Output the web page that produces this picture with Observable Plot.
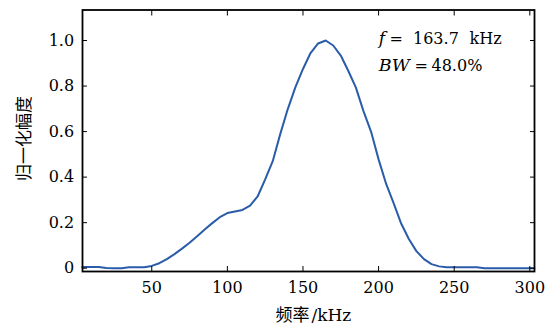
<!DOCTYPE html>
<html>
<head>
<meta charset="utf-8">
<script src="https://cdn.jsdelivr.net/npm/d3@7"></script>
<script src="https://cdn.jsdelivr.net/npm/@observablehq/plot@0.6"></script>
<style>
  html, body { margin: 0; padding: 0; background: white; }
  #chart svg text { font-family: "DejaVu Serif", "Noto Sans CJK SC", sans-serif !important; }
</style>
</head>
<body>
<div id="chart"></div>
<script>
// Frequency (kHz)
const freq = [4, 10, 15, 20, 25, 30, 35, 40, 45, 50, 55, 60, 65, 70, 75, 80, 85, 90, 95, 100,
  105, 110, 115, 120, 125, 130, 135, 140, 145, 150, 155, 160, 165, 170, 175, 180, 185, 190, 195, 200,
  205, 210, 215, 220, 225, 230, 235, 240, 245, 250, 255, 260, 265, 270, 275, 280, 285, 290, 295, 300, 303];
// Normalized amplitude
const amp = [0.005, 0.005, 0.005, 0.001, 0.0, 0.0, 0.004, 0.004, 0.004, 0.01, 0.022, 0.04, 0.062, 0.086, 0.112, 0.14, 0.17, 0.198, 0.224, 0.242,
  0.249, 0.256, 0.275, 0.315, 0.39, 0.47, 0.59, 0.70, 0.795, 0.875, 0.945, 0.987, 1.0, 0.978, 0.934, 0.866, 0.793, 0.69, 0.6, 0.478,
  0.37, 0.285, 0.195, 0.128, 0.075, 0.04, 0.018, 0.008, 0.004, 0.004, 0.004, 0.004, 0.004, 0.0, 0.0, 0.0, 0.0, 0.0, 0.0, 0.0, 0.0];

const xTicks = [50, 100, 150, 200, 250, 300];
const yTicks = [0, 0.2, 0.4, 0.6, 0.8, 1.0];
const yTickLabels = ["0", "0.2", "0.4", "0.6", "0.8", "1.0"];
const xLabelCJK = "频率";
const xLabelUnit = "/kHz";
const yLabel = "归一化幅度";
const annoF = "163.7";
const annoUnit = "kHz";
const annoBW = "48.0%";

const serif = "DejaVu Serif";
const cjk = "Noto Sans CJK SC, sans-serif";
const fs = 16;

const chart = Plot.plot({
  width: 557,
  height: 327,
  marginLeft: 82,
  marginRight: 23,
  marginTop: 9.5,
  marginBottom: 56,
  style: "font-family: 'DejaVu Serif'; font-size: 16px; background: white; color: black;",
  x: { domain: [4.2, 303.1] },
  y: { domain: [-0.0145, 1.134] },
  marks: [
    Plot.line(amp, { x: freq, y: amp, stroke: "#2a5caa", strokeWidth: 2 }),
    Plot.frame({ stroke: "black", strokeWidth: 1.8 }),
    Plot.axisX(xTicks, { anchor: "bottom", tickSize: -5, fill: "none", label: null }),
    Plot.axisX(xTicks, { anchor: "top", tickSize: -5, fill: "none", label: null }),
    Plot.axisY(yTicks, { anchor: "left", tickSize: -5, fill: "none", label: null }),
    Plot.axisY(yTicks, { anchor: "right", tickSize: -5, fill: "none", label: null }),
    Plot.axisX(xTicks, { anchor: "bottom", tickSize: 0, tickPadding: 10, label: null, fontFamily: serif, fontSize: fs, fill: "black" }),
    Plot.axisY(yTicks, { anchor: "left", tickSize: 0, tickPadding: 8.4, label: null, fontFamily: serif, fontSize: fs, fill: "black",
      tickFormat: (d) => yTickLabels[yTicks.indexOf(d)] }),
    // axis titles
    Plot.text([xLabelCJK], { frameAnchor: "bottom-left", textAnchor: "start", lineAnchor: "bottom", dx: 193, dy: 49, fontFamily: cjk, fontSize: 17, fill: "black" }),
    Plot.text([xLabelUnit], { frameAnchor: "bottom-left", textAnchor: "start", lineAnchor: "bottom", dx: 229, dy: 49, fontFamily: serif, fontSize: 17, fill: "black" }),
    Plot.text([yLabel], { frameAnchor: "left", textAnchor: "middle", lineAnchor: "bottom", rotate: -90, dx: -52.3, dy: -2.25, fontFamily: cjk, fontSize: 17, fill: "black" }),
    // annotation
    Plot.text(["f"], { frameAnchor: "top-left", textAnchor: "start", lineAnchor: "bottom", dx: 296.3, dy: 33.8, fontFamily: serif, fontStyle: "italic", fontSize: 17, fill: "black" }),
    Plot.text(["="], { frameAnchor: "top-left", textAnchor: "start", lineAnchor: "bottom", dx: 307, dy: 33.8, fontFamily: serif, fontSize: fs, fill: "black" }),
    Plot.text([annoF], { frameAnchor: "top-left", textAnchor: "start", lineAnchor: "bottom", dx: 330.5, dy: 33.8, fontFamily: serif, fontSize: fs, fill: "black" }),
    Plot.text([annoUnit], { frameAnchor: "top-left", textAnchor: "start", lineAnchor: "bottom", dx: 387, dy: 33.8, fontFamily: serif, fontSize: fs, fill: "black" }),
    Plot.text(["BW"], { frameAnchor: "top-left", textAnchor: "start", lineAnchor: "bottom", dx: 296.3, dy: 60.5, fontFamily: serif, fontStyle: "italic", fontSize: 17.5, fill: "black" }),
    Plot.text(["="], { frameAnchor: "top-left", textAnchor: "start", lineAnchor: "bottom", dx: 332, dy: 60.5, fontFamily: serif, fontSize: fs, fill: "black" }),
    Plot.text([annoBW], { frameAnchor: "top-left", textAnchor: "start", lineAnchor: "bottom", dx: 349, dy: 60.5, fontFamily: serif, fontSize: fs, fill: "black" })
  ]
});
document.getElementById("chart").appendChild(chart);
</script>
</body>
</html>
